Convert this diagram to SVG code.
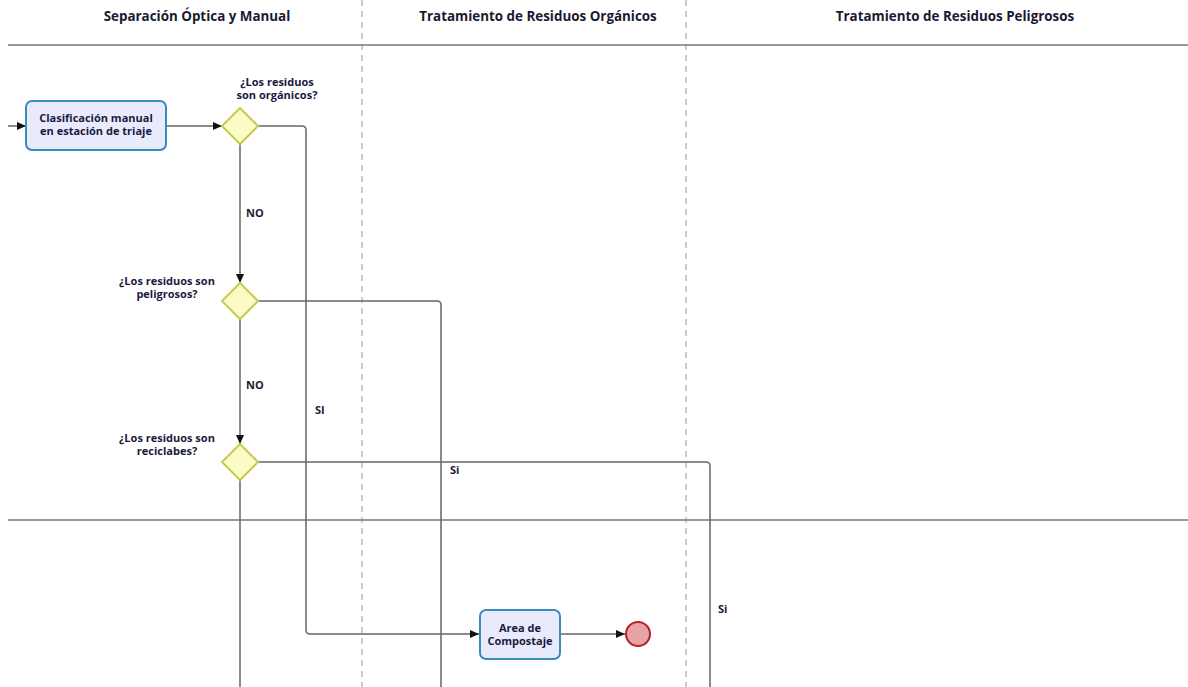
<svg xmlns="http://www.w3.org/2000/svg" width="1188" height="687" viewBox="0 0 1188 687">
<style>
.hdr{font-family:"Open Sans","Liberation Sans",sans-serif;font-weight:700;font-size:13.4px;fill:#1a1a33;text-anchor:middle}
.lbl{font-family:"Open Sans","Liberation Sans",sans-serif;font-weight:700;font-size:11px;fill:#1a1a40;text-anchor:middle}
.elbl{font-family:"Open Sans","Liberation Sans",sans-serif;font-weight:700;font-size:11px;fill:#1a1a33}
.task{fill:#e9ebfc;stroke:#3a8cbf;stroke-width:2}
.gw{fill:#fbfbc6;stroke:#c9c954;stroke-width:2}
.flow{fill:none;stroke:#666;stroke-width:1.5}
.lane{stroke:#777;stroke-width:1.5}
.dash{stroke:#999;stroke-width:1;stroke-dasharray:6,5}
</style>
<defs>
<marker id="arr" markerWidth="10" markerHeight="10" refX="9" refY="5" orient="auto" markerUnits="userSpaceOnUse">
<path d="M0,1 L9,5 L0,9 z" fill="#111"/>
</marker>
</defs>
<rect width="1188" height="687" fill="#fff"/>
<g id="lanes">
<line class="dash" x1="362" y1="0" x2="362" y2="687"/>
<line class="dash" x1="686" y1="0" x2="686" y2="687"/>
<line class="lane" x1="8" y1="45" x2="1188" y2="45"/>
<line class="lane" x1="8" y1="520" x2="1188" y2="520"/>
<text class="hdr" x="197" y="21">Separación Óptica y Manual</text>
<text class="hdr" x="538" y="21">Tratamiento de Residuos Orgánicos</text>
<text class="hdr" x="955" y="21">Tratamiento de Residuos Peligrosos</text>
</g>
<g id="connectors">
<line class="flow" x1="8" y1="126" x2="26" y2="126" marker-end="url(#arr)"/>
<line class="flow" x1="166" y1="126" x2="222" y2="126" marker-end="url(#arr)"/>
<path class="flow" d="M258,126 H302 Q306,126 306,130 V630 Q306,634 310,634 H479" marker-end="url(#arr)"/>
<line class="flow" x1="240" y1="144" x2="240" y2="283" marker-end="url(#arr)"/>
<path class="flow" d="M258,301 H437 Q441,301 441,305 V687"/>
<line class="flow" x1="240" y1="319" x2="240" y2="444" marker-end="url(#arr)"/>
<path class="flow" d="M258,462 H706 Q710,462 710,466 V687"/>
<line class="flow" x1="240" y1="480" x2="240" y2="687"/>
<line class="flow" x1="560" y1="634" x2="625" y2="634" marker-end="url(#arr)"/>
<text class="elbl" x="246" y="217">NO</text>
<text class="elbl" x="246" y="389">NO</text>
<text class="elbl" x="315" y="414">SI</text>
<text class="elbl" x="450" y="474">Si</text>
<text class="elbl" x="718" y="613">Si</text>
</g>
<g id="task1">
<rect class="task" x="26" y="101" width="140" height="49" rx="6"/>
<text class="lbl" x="96" y="122">Clasificación manual</text>
<text class="lbl" x="96" y="135">en estación de triaje</text>
</g>
<g id="gw1">
<polygon class="gw" points="240,108 258,126 240,144 222,126"/>
<text class="lbl" x="277" y="86">¿Los residuos</text>
<text class="lbl" x="277" y="99">son orgánicos?</text>
</g>
<g id="gw2">
<polygon class="gw" points="240,283 258,301 240,319 222,301"/>
<text class="lbl" x="167" y="285">¿Los residuos son</text>
<text class="lbl" x="167" y="298">peligrosos?</text>
</g>
<g id="gw3">
<polygon class="gw" points="240,444 258,462 240,480 222,462"/>
<text class="lbl" x="167" y="442">¿Los residuos son</text>
<text class="lbl" x="167" y="455">reciclabes?</text>
</g>
<g id="task2">
<rect class="task" x="480" y="610" width="80" height="49" rx="6"/>
<text class="lbl" x="520" y="632">Area de</text>
<text class="lbl" x="520" y="645">Compostaje</text>
</g>
<g id="end">
<circle cx="638" cy="634" r="12" fill="#e8a3a6" stroke="#b5232a" stroke-width="2"/>
</g>
</svg>
